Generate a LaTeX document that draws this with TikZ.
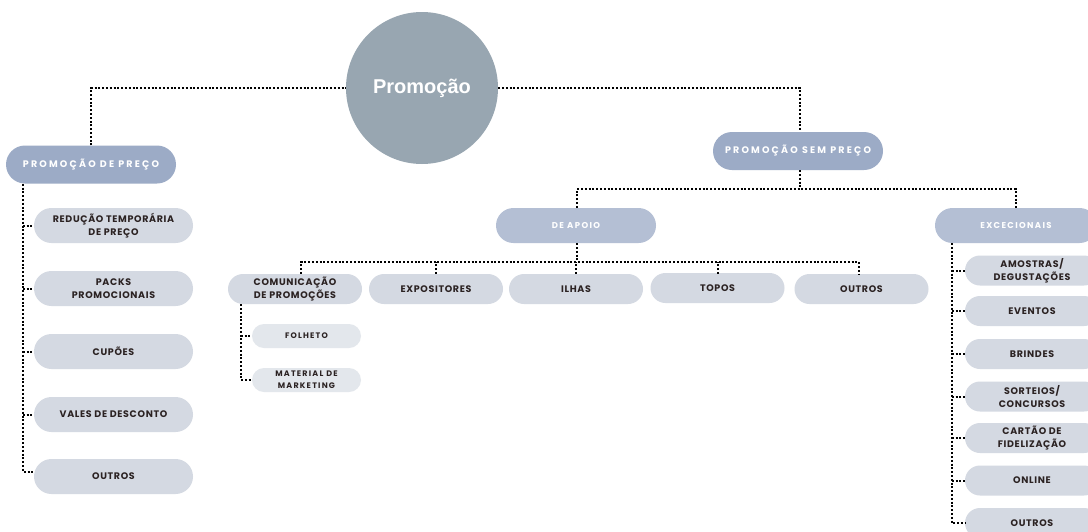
\documentclass[tikz,border=0pt]{standalone}
\usepackage{fontspec}
\setmainfont{Liberation Sans}
\newfontfamily\popfont{Poppins Bold}[LetterSpace=7]
\newfontfamily\popwide{Poppins Bold}[LetterSpace=23]
\newfontfamily\popmid{Poppins Bold}[LetterSpace=16]
\newfontfamily\popsmall{Poppins Bold}[LetterSpace=15]
\usetikzlibrary{calc}
\definecolor{circ}{HTML}{98A6B1}
\definecolor{lvA}{HTML}{9CABC6}
\definecolor{lvB}{HTML}{B4BFD4}
\definecolor{lvC}{HTML}{D4D9E2}
\definecolor{lvD}{HTML}{E3E7EC}
\definecolor{ink}{HTML}{2B2222}
\tikzset{
  dots/.style={line width=2pt, dash pattern=on 2pt off 1.8pt, black},
  pillA/.style={rectangle, fill=lvA, text=white, minimum width=170, minimum height=38, rounded corners=19pt, inner sep=0pt,
    font=\popwide\fontsize{9.5}{13}\selectfont, align=center},
  pillB/.style={rectangle, fill=lvB, text=white, minimum height=35, rounded corners=17.5pt, inner sep=0pt,
    font=\popmid\fontsize{8.5}{12}\selectfont, align=center},
  pillL/.style={rectangle, fill=lvC, text=ink, minimum width=159, minimum height=35, rounded corners=17.5pt, inner sep=0pt,
    font=\popfont\fontsize{9.5}{13}\selectfont, align=center},
  pillM/.style={rectangle, fill=lvC, text=ink, minimum width=134, minimum height=30, rounded corners=15pt, inner sep=0pt,
    font=\popfont\fontsize{9.5}{13}\selectfont, align=center},
  pillS/.style={rectangle, fill=lvD, text=ink, minimum width=109, minimum height=24, rounded corners=12pt, inner sep=0pt,
    font=\popsmall\fontsize{8}{12}\selectfont, align=center},
}
\begin{document}
\begin{tikzpicture}[x=1pt,y=-1pt]
\useasboundingbox (0,0) rectangle (1088,531);
\clip (0,0) rectangle (1088,531);
\fill[white] (0,0) rectangle (1088,531);

\node[circle, fill=circ, minimum size=152, inner sep=0pt, text=white, font=\bfseries\fontsize{20}{24}\selectfont] (root) at (422,88) {Promoção};

\node[pillA] (pp) at (91,164.5) {PROMOÇÃO DE PREÇO};
\node[pillA] (sp) at (798,151) {PROMOÇÃO SEM PREÇO};
\node[pillB, minimum width=160] (apoio) at (576,225.5) {DE APOIO};
\node[pillB, minimum width=162] (exc) at (1016,225.5) {EXCECIONAIS};

\node[pillL] (l1) at (113.5,225.5) {REDUÇÃO TEMPORÁRIA\\DE PREÇO};
\node[pillL] (l2) at (113.5,288.5) {PACKS\\PROMOCIONAIS};
\node[pillL] (l3) at (113.5,351.5) {CUPÕES};
\node[pillL] (l4) at (113.5,414.5) {VALES DE DESCONTO};
\node[pillL] (l5) at (113.5,476.5) {OUTROS};

\node[pillM] (m1) at (295,289) {COMUNICAÇÃO\\DE PROMOÇÕES};
\node[pillM] (m2) at (436,289) {EXPOSITORES};
\node[pillM] (m3) at (576,289) {ILHAS};
\node[pillM] (m4) at (717.5,288) {TOPOS};
\node[pillM] (m5) at (861.5,289) {OUTROS};

\node[pillS] (f1) at (306.5,336) {FOLHETO};
\node[pillS] (f2) at (306.5,380) {MATERIAL DE\\MARKETING};

\node[pillM] (e1) at (1032,270.5) {AMOSTRAS/\\DEGUSTAÇÕES};
\node[pillM] (e2) at (1032,311) {EVENTOS};
\node[pillM] (e3) at (1032,354) {BRINDES};
\node[pillM] (e4) at (1032,396.5) {SORTEIOS/\\CONCURSOS};
\node[pillM] (e5) at (1032,438) {CARTÃO DE\\FIDELIZAÇÃO};
\node[pillM] (e6) at (1032,480.5) {ONLINE};
\node[pillM] (e7) at (1032,523) {OUTROS};

% connectors
\draw[dots] (pp.north) |- (root.west);
\draw[dots] (root.east) -| ([xshift=2pt]sp.north);

\coordinate (lx) at ([xshift=17pt]pp.south west);
\draw[dots] (lx) |- ([yshift=5pt]l5.west);
\foreach \n in {l1,l2,l3,l4} \draw[dots] (lx |- \n.west) -- (\n.west);

\coordinate (bus1) at (800,189);
\draw[dots] ([xshift=2pt]sp.south) -- (bus1);
\draw[dots] ([xshift=1pt]apoio.north) |- (bus1) -| (exc.north);

\coordinate (bus2) at (577,262);
\draw[dots] ([xshift=1pt]apoio.south) -- (bus2);
\draw[dots] ([xshift=6pt]m1.north) |- (bus2) -| ([xshift=-2.5pt]m5.north);
\foreach \n in {m2,m3} \draw[dots] (\n.north) -- (\n.north |- bus2);
\draw[dots] (m4.north |- m2.north) -- (m4.north |- bus2);

\coordinate (cx) at ([xshift=13pt]m1.south west);
\draw[dots] (cx) |- (f2.west);
\draw[dots] (cx |- f1.west) -- (f1.west);

\coordinate (ex) at ([xshift=17pt]exc.south west);
\draw[dots] (ex) |- (e7.west);
\foreach \n in {e1,e2,e3,e4,e5,e6} \draw[dots] (ex |- \n.west) -- (\n.west);
\end{tikzpicture}
\end{document}
